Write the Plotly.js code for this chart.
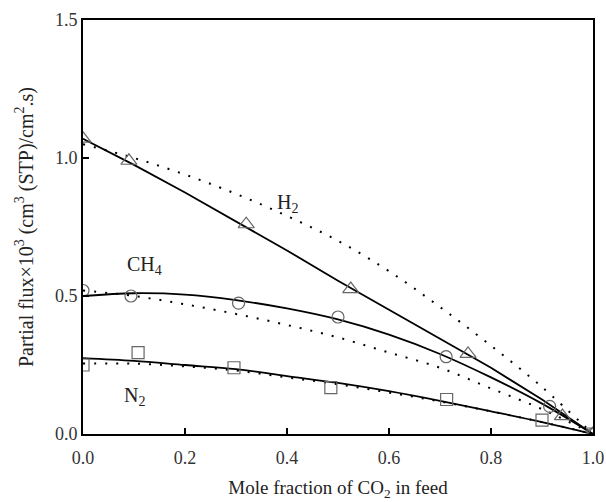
<!DOCTYPE html>
<html>
<head>
<meta charset="utf-8">
<script src="https://cdn.plot.ly/plotly-3.0.1.min.js"></script>
<style>html,body{margin:0;padding:0;background:#fff;}#chart{width:606px;height:502px;}</style>
</head>
<body>
<div id="chart"></div>
<script>
// Measured partial fluxes (markers)
const h2X = [0.0, 0.09, 0.32, 0.525, 0.755, 0.94, 1.0];
const h2Y = [1.07, 0.99, 0.76, 0.525, 0.29, 0.065, 0.0];
const ch4X = [0.0, 0.094, 0.305, 0.50, 0.712, 0.915, 1.0];
const ch4Y = [0.52, 0.50, 0.474, 0.424, 0.28, 0.10, 0.0];
const n2X = [0.0, 0.108, 0.296, 0.486, 0.713, 0.90, 1.0];
const n2Y = [0.25, 0.295, 0.24, 0.168, 0.125, 0.05, 0.0];

// Model curves
const modelX = [0.0, 0.1, 0.2, 0.3, 0.4, 0.5, 0.6, 0.7, 0.8, 0.9, 1.0];
const h2Solid = [1.07, 0.975, 0.875, 0.77, 0.665, 0.555, 0.45, 0.345, 0.24, 0.125, 0.0];
const h2Dotted = [1.05, 1.0, 0.94, 0.87, 0.79, 0.70, 0.59, 0.46, 0.32, 0.17, 0.0];
const ch4Solid = [0.50, 0.51, 0.505, 0.485, 0.455, 0.415, 0.36, 0.29, 0.205, 0.11, 0.0];
const ch4Dotted = [0.52, 0.50, 0.47, 0.435, 0.395, 0.35, 0.295, 0.24, 0.165, 0.09, 0.0];
const n2Solid = [0.275, 0.265, 0.25, 0.235, 0.21, 0.185, 0.155, 0.12, 0.082, 0.043, 0.0];
const n2Dotted = [0.255, 0.255, 0.245, 0.23, 0.205, 0.18, 0.15, 0.118, 0.082, 0.043, 0.0];

// Gas labels
const labelText = ['H<sub>2</sub>', 'CH<sub>4</sub>', 'N<sub>2</sub>'];
const labelX = [0.40, 0.12, 0.10];
const labelY = [0.835, 0.61, 0.135];

const serif = 'Liberation Serif';
const markerGray = '#666666';

function solid(y, shape) {
  return {x: modelX, y: y, mode: 'lines', line: {color: '#000', width: 1.8, shape: shape}, showlegend: false, hoverinfo: 'skip'};
}
function dotted(y) {
  return {x: modelX, y: y, mode: 'lines', line: {color: '#000', width: 2, dash: '2px,9px', shape: 'spline'}, showlegend: false, hoverinfo: 'skip'};
}
function points(x, y, sym, size) {
  return {x: x, y: y, mode: 'markers', showlegend: false,
    marker: {symbol: sym, size: size, color: markerGray, line: {color: markerGray, width: 1.2}}};
}

const traces = [
  solid(h2Solid, 'linear'), solid(ch4Solid, 'spline'), solid(n2Solid, 'spline'),
  dotted(h2Dotted), dotted(ch4Dotted), dotted(n2Dotted),
  points(h2X, h2Y, 'triangle-up-open', 14),
  points(ch4X, ch4Y, 'circle-open', 12),
  points(n2X, n2Y, 'square-open', 12)
];

const annotations = labelText.map((t, i) => ({
  x: labelX[i], y: labelY[i], xref: 'x', yref: 'y', text: t, showarrow: false,
  font: {family: serif, size: 20, color: '#222'}
}));

const layout = {
  width: 606, height: 502,
  margin: {l: 83, r: 13, t: 20, b: 68},
  paper_bgcolor: '#fff', plot_bgcolor: '#fff',
  font: {family: serif, color: '#222'},
  xaxis: {
    range: [0, 1], tickvals: [0, 0.2, 0.4, 0.6, 0.8, 1.0], ticktext: ['0.0', '0.2', '0.4', '0.6', '0.8', '1.0'],
    ticks: 'inside', ticklen: 6, tickwidth: 2, tickcolor: '#000',
    showline: true, linecolor: '#000', linewidth: 2, mirror: true,
    showgrid: false, zeroline: false, ticklabelstandoff: 6,
    tickfont: {family: serif, size: 18, color: '#333'},
    title: {text: 'Mole fraction of CO<sub>2</sub> in feed', font: {family: serif, size: 19, color: '#222'}, standoff: 14}
  },
  yaxis: {
    range: [0, 1.5], tickvals: [0, 0.5, 1.0, 1.5], ticktext: ['0.0', '0.5', '1.0', '1.5'],
    ticks: 'inside', ticklen: 6, tickwidth: 2, tickcolor: '#000',
    showline: true, linecolor: '#000', linewidth: 2, mirror: true,
    showgrid: false, zeroline: false,
    tickfont: {family: serif, size: 18, color: '#333'},
    title: {text: 'Partial flux×10<sup>3</sup> (cm<sup>3</sup> (STP)/cm<sup>2</sup>.s)', font: {family: serif, size: 20, color: '#222'}, standoff: 16}
  },
  annotations: annotations
};

Plotly.newPlot('chart', traces, layout, {staticPlot: true, displayModeBar: false});
</script>
</body>
</html>
